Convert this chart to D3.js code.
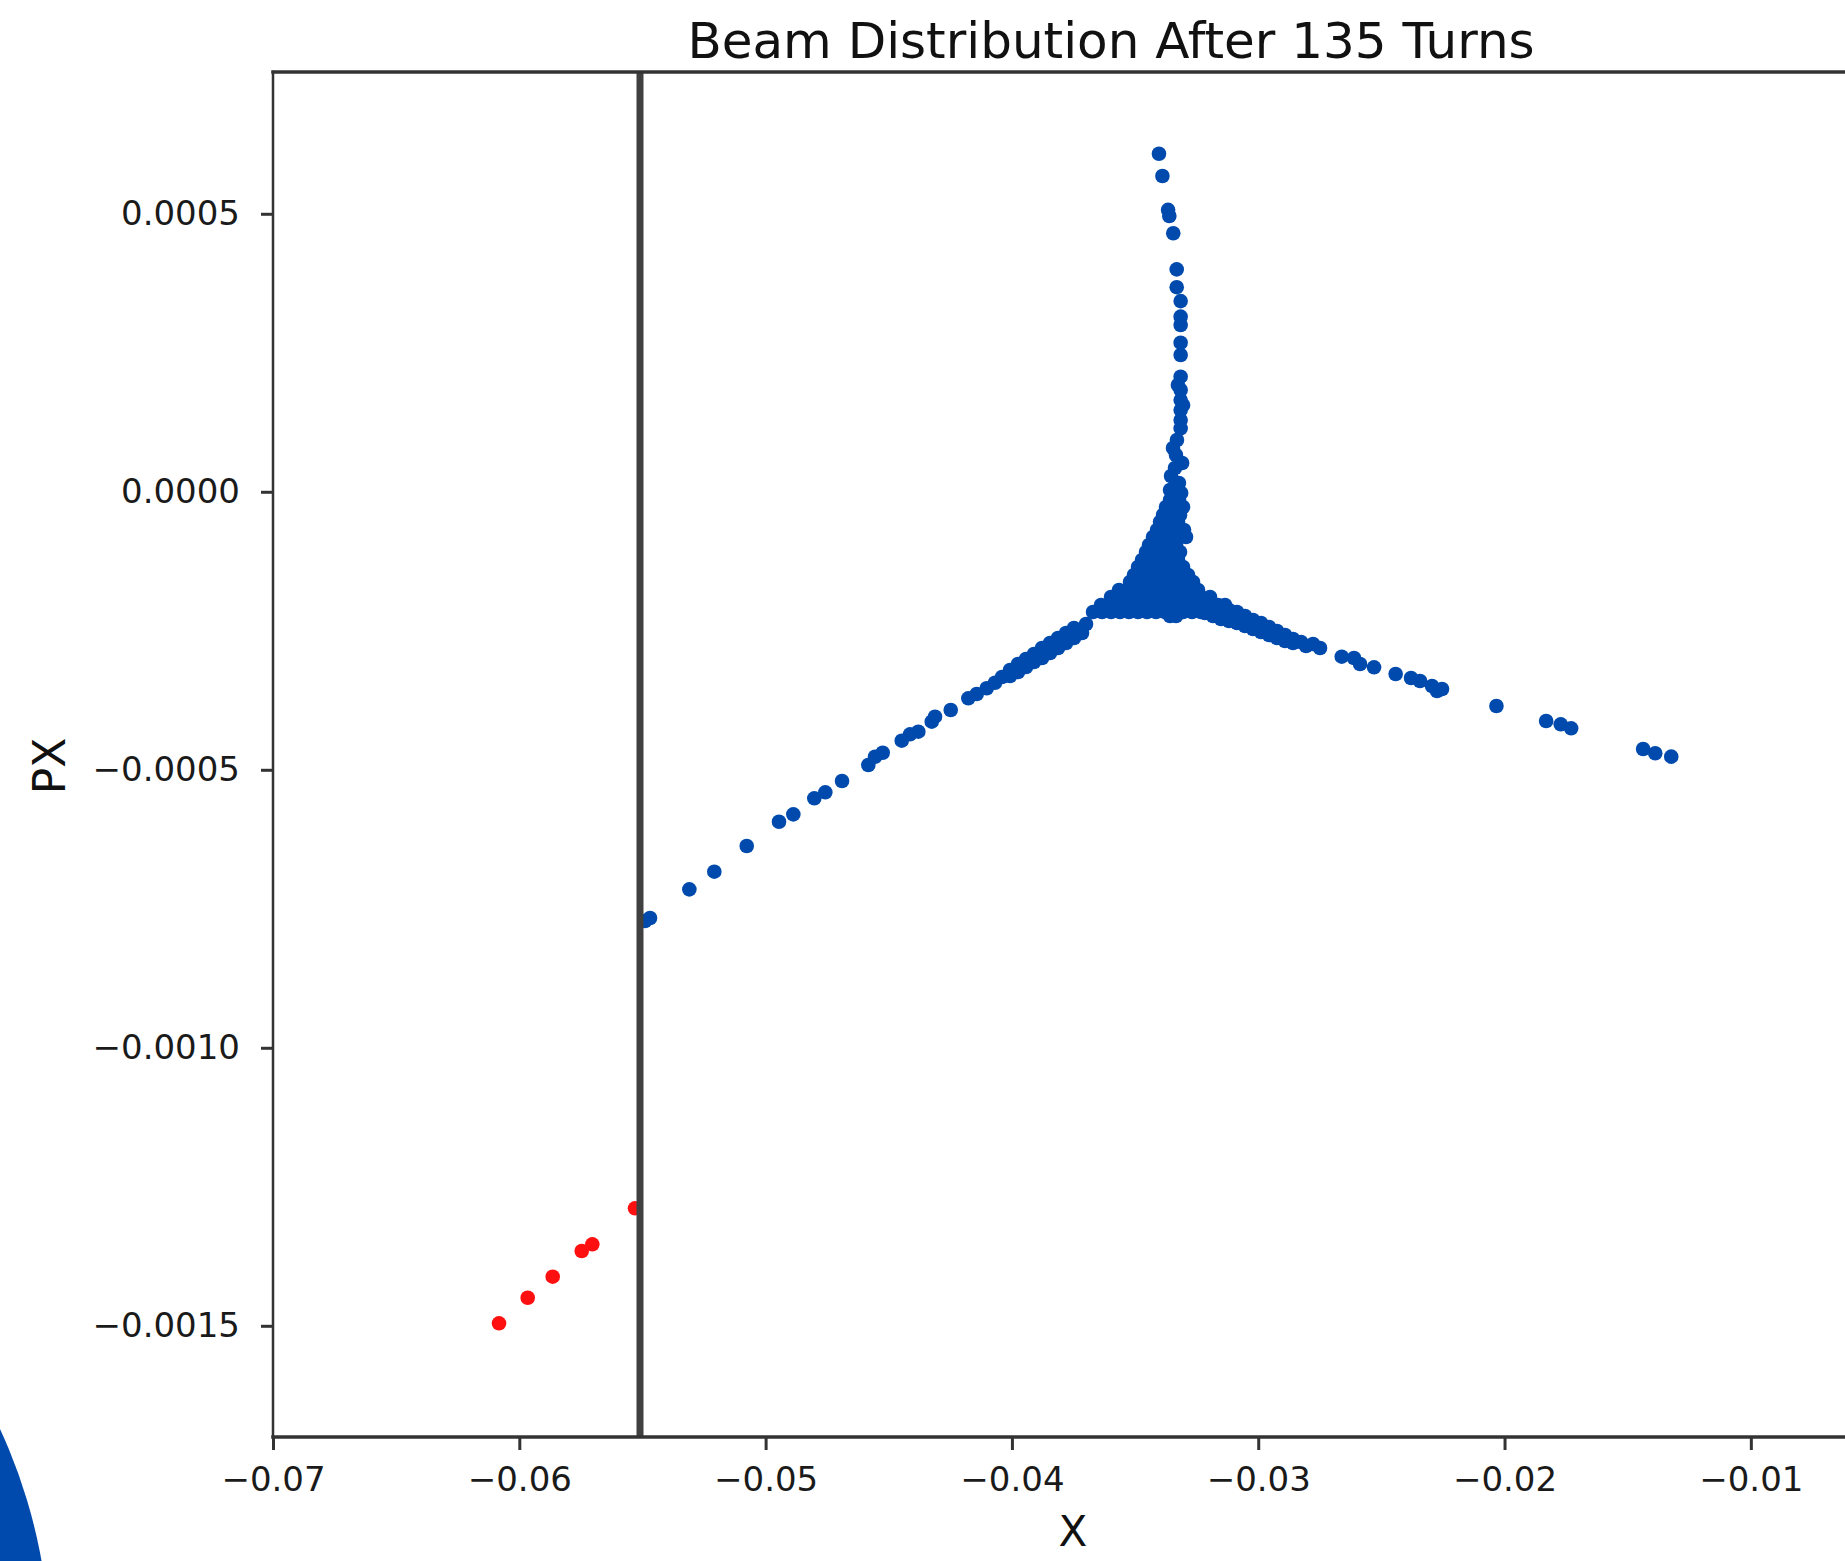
<!DOCTYPE html>
<html>
<head>
<meta charset="utf-8">
<script src="https://cdn.jsdelivr.net/npm/d3@7"></script>
<style>
body { margin: 0; background: #fff; }
text { font-family: "DejaVu Sans", sans-serif; }
</style>
</head>
<body>
<script>
var w = 1845, h = 1561;

// axis limits, ticks, aperture
var xLimits = [-0.07, -0.005];
var yLimits = [-0.0017, 0.000755];
var xTicks = [-0.07, -0.06, -0.05, -0.04, -0.03, -0.02, -0.01];
var yTicks = [0.0005, 0.0, -0.0005, -0.0010, -0.0015];
var aperture = -0.0551;

// surviving particles [x, px]
var upperArm = [
	[-0.03403, 0.000608], [-0.03389, 0.000568], [-0.03366, 0.000507], [-0.03361, 0.000496],
	[-0.03345, 0.000465], [-0.03331, 0.000400], [-0.03331, 0.000368], [-0.03315, 0.000343],
	[-0.03315, 0.000315], [-0.03315, 0.000300], [-0.03315, 0.000268], [-0.03315, 0.000246],
	[-0.03315, 0.000207], [-0.03326, 0.000192], [-0.03315, 0.000183], [-0.03315, 0.000165],
	[-0.03305, 0.000156], [-0.03315, 0.000147], [-0.03315, 0.000129], [-0.03315, 0.000114],
	[-0.03330, 0.0000932], [-0.03346, 0.0000788], [-0.03334, 0.0000662], [-0.03309, 0.0000518],
	[-0.03338, 0.0000428], [-0.03354, 0.0000284], [-0.03322, 0.0000158], [-0.03358, 0.0000032],
	[-0.03313, -0.0000022]
];

// dense core, one row per px value
var coreRows = [
	[-0.0000147, [-0.033581, -0.033216]],
	[-0.0000273, [-0.033743, -0.033378, -0.033053]],
	[-0.0000417, [-0.033865, -0.0335, -0.033175]],
	[-0.0000543, [-0.033987, -0.033622, -0.033256]],
	[-0.0000687, [-0.034109, -0.033743, -0.033378, -0.033013]],
	[-0.0000813, [-0.034271, -0.033906, -0.03354, -0.033175, -0.032931]],
	[-0.0000957, [-0.034434, -0.034068, -0.033703, -0.033337]],
	[-0.0001083, [-0.034555, -0.03419, -0.033825, -0.033459, -0.033175]],
	[-0.0001227, [-0.034718, -0.034352, -0.033987, -0.033622, -0.033256]],
	[-0.0001353, [-0.03488, -0.034515, -0.034149, -0.033784, -0.033419, -0.033053]],
	[-0.0001496, [-0.035043, -0.034677, -0.034312, -0.033946, -0.033581, -0.033216, -0.03285]],
	[-0.0001622, [-0.035205, -0.03484, -0.034474, -0.034109, -0.033743, -0.033378, -0.033013, -0.032647]],
	[-0.0001766, [-0.035652, -0.035286, -0.034921, -0.034555, -0.03419, -0.033825, -0.033459, -0.033094, -0.032728, -0.032444]],
	[-0.0001892, [-0.035976, -0.035611, -0.035246, -0.03488, -0.034515, -0.034149, -0.033784, -0.033419, -0.033053, -0.032688, -0.032323, -0.031957]],
	[-0.0002036, [-0.036382, -0.036017, -0.035652, -0.035286, -0.034921, -0.034555, -0.03419, -0.033825, -0.033459, -0.033094, -0.032728, -0.032363, -0.031998, -0.031632, -0.031348]],
	[-0.0002162, [-0.036707, -0.036342, -0.035976, -0.035611, -0.035246, -0.03488, -0.034515, -0.034149, -0.033784, -0.033419, -0.033053, -0.032688, -0.032323, -0.031957, -0.031592, -0.031226, -0.030861]],
	[-0.0002234, [-0.033581, -0.033337]]
];

var leftArm = [
	[-0.036991, -0.0002378], [-0.037154, -0.000254], [-0.037479, -0.000245], [-0.037479, -0.000263],
	[-0.037803, -0.000254], [-0.037803, -0.000272], [-0.038128, -0.000263], [-0.038128, -0.000281],
	[-0.038453, -0.000272], [-0.038453, -0.00029], [-0.038778, -0.000281], [-0.038778, -0.000299],
	[-0.039103, -0.0002917], [-0.039103, -0.0003061], [-0.039428, -0.0003007], [-0.039428, -0.0003151],
	[-0.039752, -0.0003097], [-0.039752, -0.0003241], [-0.040077, -0.0003205], [-0.040077, -0.0003313],
	[-0.040402, -0.0003331], [-0.040686, -0.0003434], [-0.041023, -0.0003534], [-0.041429, -0.0003637],
	[-0.04177, -0.0003714], [-0.042485, -0.0003925], [-0.043122, -0.0004045], [-0.043256, -0.0004135],
	[-0.0438, -0.0004315], [-0.044137, -0.0004362], [-0.044474, -0.0004477], [-0.045246, -0.0004693],
	[-0.045558, -0.0004765], [-0.04583, -0.0004914], [-0.046898, -0.0005202], [-0.047576, -0.0005405],
	[-0.048023, -0.0005513], [-0.048875, -0.0005801], [-0.049456, -0.0005934], [-0.050767, -0.0006371],
	[-0.052083, -0.0006833], [-0.053097, -0.000715], [-0.054693, -0.0007666], [-0.054896, -0.000772]
];

var rightArm = [
	[-0.03216, -0.0002], [-0.03216, -0.000218], [-0.031835, -0.0002054], [-0.031835, -0.0002234],
	[-0.03151, -0.000209], [-0.03151, -0.0002288], [-0.031186, -0.0002126], [-0.031186, -0.0002324],
	[-0.030861, -0.000218], [-0.030861, -0.000236], [-0.030536, -0.0002234], [-0.030536, -0.0002414],
	[-0.030211, -0.0002306], [-0.030211, -0.0002468], [-0.029886, -0.000236], [-0.029886, -0.0002522],
	[-0.029561, -0.0002432], [-0.029561, -0.0002576], [-0.029237, -0.0002504], [-0.029237, -0.000263],
	[-0.028912, -0.0002576], [-0.028912, -0.0002684], [-0.028587, -0.0002648], [-0.028587, -0.000272],
	[-0.028262, -0.0002701], [-0.028059, -0.0002773], [-0.027775, -0.0002738], [-0.027491, -0.0002809],
	[-0.02661, -0.0002966], [-0.02611, -0.0002989], [-0.025867, -0.0003097], [-0.025298, -0.0003157],
	[-0.024421, -0.0003277], [-0.023796, -0.0003349], [-0.023431, -0.0003403], [-0.022944, -0.0003493],
	[-0.022741, -0.0003583], [-0.022538, -0.0003547], [-0.020329, -0.0003853], [-0.018311, -0.0004122],
	[-0.017718, -0.0004182], [-0.017296, -0.0004254], [-0.014373, -0.0004626], [-0.013882, -0.0004703],
	[-0.013232, -0.0004764]
];

// particles beyond the aperture
var lost = [
	[-0.055302, -0.0012887], [-0.057036, -0.0013534], [-0.057466, -0.0013655],
	[-0.058644, -0.0014117], [-0.059659, -0.0014495], [-0.060824, -0.0014955]
];

var kept = upperArm.concat(leftArm, rightArm);
coreRows.forEach(function(r) {
	r[1].forEach(function(v) { kept.push([v, r[0]]); });
});

var x = d3.scaleLinear().domain(xLimits).range([273, 1874]);
var y = d3.scaleLinear().domain(yLimits).range([1437, 72]);

var svg = d3.select("body").append("svg")
	.attr("width", w)
	.attr("height", h);

// slide decoration in the corner
svg.append("circle")
	.attr("cx", -490).attr("cy", 1656).attr("r", 540)
	.style("fill", "#004aad");

svg.append("g").selectAll("circle")
	.data(kept)
	.enter()
	.append("circle")
	.attr("cx", function(d) { return x(d[0]); })
	.attr("cy", function(d) { return y(d[1]); })
	.attr("r", 7.3)
	.style("fill", "#004aad");

svg.append("g").selectAll("circle")
	.data(lost)
	.enter()
	.append("circle")
	.attr("cx", function(d) { return x(d[0]); })
	.attr("cy", function(d) { return y(d[1]); })
	.attr("r", 7.3)
	.style("fill", "#ff1010");

svg.append("line")
	.attr("x1", x(aperture)).attr("x2", x(aperture))
	.attr("y1", y(yLimits[0])).attr("y2", y(yLimits[1]))
	.style("stroke", "#404040")
	.style("stroke-width", 7);

var xAxis = svg.append("g")
	.attr("transform", "translate(0," + y(yLimits[0]) + ")")
	.call(d3.axisBottom(x).tickValues(xTicks).tickFormat(d3.format(".2f"))
		.tickSize(13).tickPadding(17).tickSizeOuter(0));

var yAxis = svg.append("g")
	.attr("transform", "translate(" + x(xLimits[0]) + ",0)")
	.call(d3.axisLeft(y).tickValues(yTicks).tickFormat(d3.format(".4f"))
		.tickSize(12).tickPadding(21).tickSizeOuter(0));

[xAxis, yAxis].forEach(function(a) {
	a.select(".domain").remove();
	a.selectAll(".tick line").style("stroke", "#333").style("stroke-width", 3);
	a.selectAll(".tick text").style("font-size", "34px").style("fill", "#1a1a1a")
		.style("font-family", "'DejaVu Sans', sans-serif");
});

// spines
var spines = [
	[xLimits[0], yLimits[0], xLimits[0], yLimits[1], 2.5],
	[xLimits[0], yLimits[0], xLimits[1], yLimits[0], 3.5],
	[xLimits[0], yLimits[1], xLimits[1], yLimits[1], 3.5],
	[xLimits[1], yLimits[0], xLimits[1], yLimits[1], 3.5]
];
svg.append("g").selectAll("line")
	.data(spines)
	.enter()
	.append("line")
	.attr("x1", function(d) { return x(d[0]); })
	.attr("y1", function(d) { return y(d[1]); })
	.attr("x2", function(d) { return x(d[2]); })
	.attr("y2", function(d) { return y(d[3]); })
	.style("stroke", "#333")
	.style("stroke-width", function(d) { return d[4]; })
	.style("stroke-linecap", "square");

svg.append("text")
	.attr("x", 1111).attr("y", 58)
	.attr("text-anchor", "middle")
	.style("font-size", "50px")
	.style("fill", "#111")
	.text("Beam Distribution After 135 Turns");

svg.append("text")
	.attr("x", 1073).attr("y", 1546)
	.attr("text-anchor", "middle")
	.style("font-size", "42px")
	.style("fill", "#111")
	.text("X");

svg.append("text")
	.attr("transform", "translate(65,766) rotate(-90)")
	.attr("text-anchor", "middle")
	.style("font-size", "44px")
	.style("fill", "#111")
	.text("PX");
</script>
</body>
</html>
